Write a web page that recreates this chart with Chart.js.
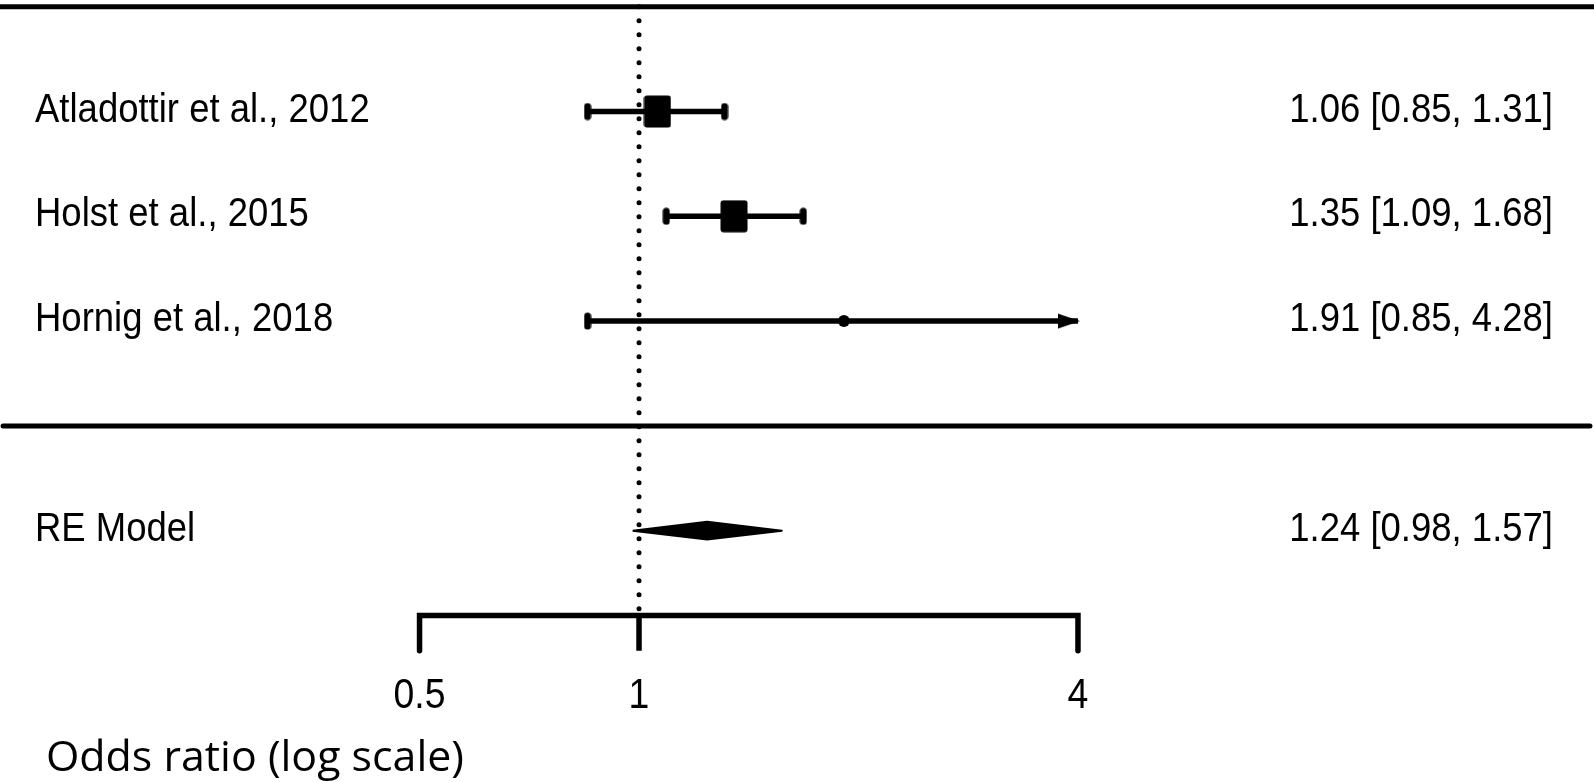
<!DOCTYPE html>
<html>
<head>
<meta charset="utf-8">
<title>Forest plot</title>
<script src="https://cdn.jsdelivr.net/npm/chart.js@4.4.1/dist/chart.umd.min.js"></script>
<style>
  html, body { margin: 0; padding: 0; background: #fff; }
  #wrap { width: 1594px; height: 782px; position: relative; }
</style>
</head>
<body>
<div id="wrap"><canvas id="forest"></canvas></div>
<script>
const studies = ['Atladottir et al., 2012', 'Holst et al., 2015', 'Hornig et al., 2018'];
const estimates = [1.06, 1.35, 1.91];
const lowerCI = [0.85, 1.09, 0.85];
const upperCI = [1.31, 1.68, 4.28];

const pooledLabel = 'RE Model';
const pooledEstimate = 1.24;
const pooledLower = 0.98;
const pooledUpper = 1.57;

const tickValues = [0.5, 1, 4];
const axisTitle = 'Odds ratio (log scale)';

// layout, y in row units (one unit = one study row)
const X_MIN = 0.1329, X_MAX = 20.41;
const Y_MIN = -3.398, Y_MAX = 4.064;
const TOP_Y = 4, SEP_Y = 0, POOL_Y = -1, AXIS_Y = -1.81, TICK_END = -2.145;
const SEP_FROM = 0.1342, SEP_TO = 20.15;
const DIAMOND_H = 0.085;
const axisLo = tickValues[0];
const axisHi = tickValues[tickValues.length - 1];

const rowY = studies.map((s, i) => studies.length - i);

function fmt(v) { return v.toFixed(2); }
function ciText(est, lo, hi) { return fmt(est) + ' [' + fmt(lo) + ', ' + fmt(hi) + ']'; }

function makeMarker(w, h, draw) {
  const c = document.createElement('canvas');
  c.width = w;
  c.height = h;
  const g = c.getContext('2d');
  g.fillStyle = '#000';
  draw(g);
  return c;
}
function roundBox(g, x, y, w, h, r) {
  g.beginPath();
  g.roundRect(x, y, w, h, r);
  g.fill();
}

// square box (original plot is slightly taller than wide)
const boxImg = makeMarker(28, 33, g => roundBox(g, 0.5, 0.5, 27, 32, 3));
// whisker end cap
const capImg = makeMarker(8, 18, g => roundBox(g, 0.5, 0.5, 7, 17, 3.5));
// arrow head, tip sits at the point
const arrowImg = makeMarker(48, 16, g => {
  g.beginPath();
  g.moveTo(4, 0.5);
  g.lineTo(26, 8);
  g.lineTo(4, 15.5);
  g.closePath();
  g.fill();
});

const datasets = [];

// point estimates
datasets.push({
  data: estimates.map((e, i) => ({ x: e, y: rowY[i] })),
  pointStyle: [boxImg, boxImg, 'circle'],
  pointRadius: [14, 14, 6],
  backgroundColor: '#000',
  borderColor: '#000',
  pointBorderWidth: 0
});

// confidence intervals
const arrows = [];
studies.forEach((s, i) => {
  const cut = upperCI[i] > axisHi;
  datasets.push({
    data: [{ x: lowerCI[i], y: rowY[i] }, { x: Math.min(upperCI[i], axisHi), y: rowY[i] }],
    showLine: true,
    borderColor: '#000',
    borderWidth: 5.5,
    pointStyle: capImg,
    pointRadius: [9, cut ? 0 : 9]
  });
  if (cut) arrows.push({ x: axisHi, y: rowY[i] });
});

datasets.push({
  data: arrows,
  pointStyle: arrowImg,
  pointRadius: 10
});

// pooled estimate diamond
datasets.push({
  data: [
    { x: pooledLower, y: POOL_Y },
    { x: pooledEstimate, y: POOL_Y + DIAMOND_H },
    { x: pooledUpper, y: POOL_Y },
    { x: pooledEstimate, y: POOL_Y - DIAMOND_H },
    { x: pooledLower, y: POOL_Y }
  ],
  showLine: true,
  fill: 'shape',
  backgroundColor: '#000',
  borderColor: '#000',
  borderWidth: 2,
  borderJoinStyle: 'round',
  pointRadius: 0
});

// dotted reference line at OR = 1
datasets.push({
  data: [{ x: 1, y: TOP_Y }, { x: 1, y: AXIS_Y }],
  showLine: true,
  borderColor: '#000',
  borderWidth: 5,
  borderDash: [0, 14],
  borderCapStyle: 'round',
  pointRadius: 0
});

// top rule and separator above the pooled row
datasets.push({
  data: [{ x: X_MIN, y: TOP_Y }, { x: X_MAX, y: TOP_Y }],
  showLine: true,
  borderColor: '#000',
  borderWidth: 5,
  pointRadius: 0
});
datasets.push({
  data: [{ x: SEP_FROM, y: SEP_Y }, { x: SEP_TO, y: SEP_Y }],
  showLine: true,
  borderColor: '#000',
  borderWidth: 5,
  borderCapStyle: 'round',
  pointRadius: 0
});

// x axis with downward ticks
const axisPath = [{ x: axisLo, y: TICK_END }];
tickValues.forEach((t, i) => {
  axisPath.push({ x: t, y: AXIS_Y });
  if (i > 0 && i < tickValues.length - 1) {
    axisPath.push({ x: t, y: TICK_END });
    axisPath.push({ x: t, y: AXIS_Y });
  }
});
axisPath.push({ x: axisHi, y: TICK_END });
datasets.push({
  data: axisPath,
  showLine: true,
  borderColor: '#000',
  borderWidth: 5.5,
  borderJoinStyle: 'miter',
  borderCapStyle: 'round',
  pointRadius: 0
});

const textPlugin = {
  id: 'forestText',
  afterDatasetsDraw(chart) {
    const ctx = chart.ctx;
    const xs = chart.scales.x;
    const ys = chart.scales.y;
    const put = (txt, x, y, font, align, sx) => {
      ctx.save();
      ctx.translate(x, y);
      ctx.scale(sx, 1);
      ctx.font = font;
      ctx.textAlign = align;
      ctx.textBaseline = 'alphabetic';
      ctx.fillStyle = '#000';
      ctx.fillText(txt, 0, 0);
      ctx.restore();
    };
    const rowFont = '41px "Liberation Sans", Arial, sans-serif';
    const sx = 0.89;
    studies.forEach((s, i) => {
      const py = ys.getPixelForValue(rowY[i]) + 10;
      put(s, 35, py, rowFont, 'left', sx);
      put(ciText(estimates[i], lowerCI[i], upperCI[i]), 1553, py, rowFont, 'right', sx);
    });
    const pp = ys.getPixelForValue(POOL_Y) + 10;
    put(pooledLabel, 35, pp, rowFont, 'left', sx);
    put(ciText(pooledEstimate, pooledLower, pooledUpper), 1553, pp, rowFont, 'right', sx);

    const ay = ys.getPixelForValue(AXIS_Y);
    tickValues.forEach(t => {
      put(String(t), xs.getPixelForValue(t), ay + 92, '43px "Liberation Sans", Arial, sans-serif', 'center', 0.87);
    });

    const titleFont = '42px "Open Sans", sans-serif';
    ctx.save();
    ctx.font = titleFont;
    const w = ctx.measureText(axisTitle).width;
    ctx.restore();
    put(axisTitle, 46, 771, titleFont, 'left', 418 / w);
  }
};

new Chart(document.getElementById('forest'), {
  type: 'scatter',
  data: { datasets: datasets },
  options: {
    responsive: true,
    maintainAspectRatio: false,
    animation: false,
    layout: { padding: 0, autoPadding: false },
    plugins: { legend: { display: false }, tooltip: { enabled: false } },
    scales: {
      x: { type: 'logarithmic', display: false, min: X_MIN, max: X_MAX, bounds: 'data' },
      y: { type: 'linear', display: false, min: Y_MIN, max: Y_MAX, bounds: 'data' }
    },
    elements: { line: { tension: 0 } }
  },
  plugins: [textPlugin]
});
</script>
</body>
</html>
